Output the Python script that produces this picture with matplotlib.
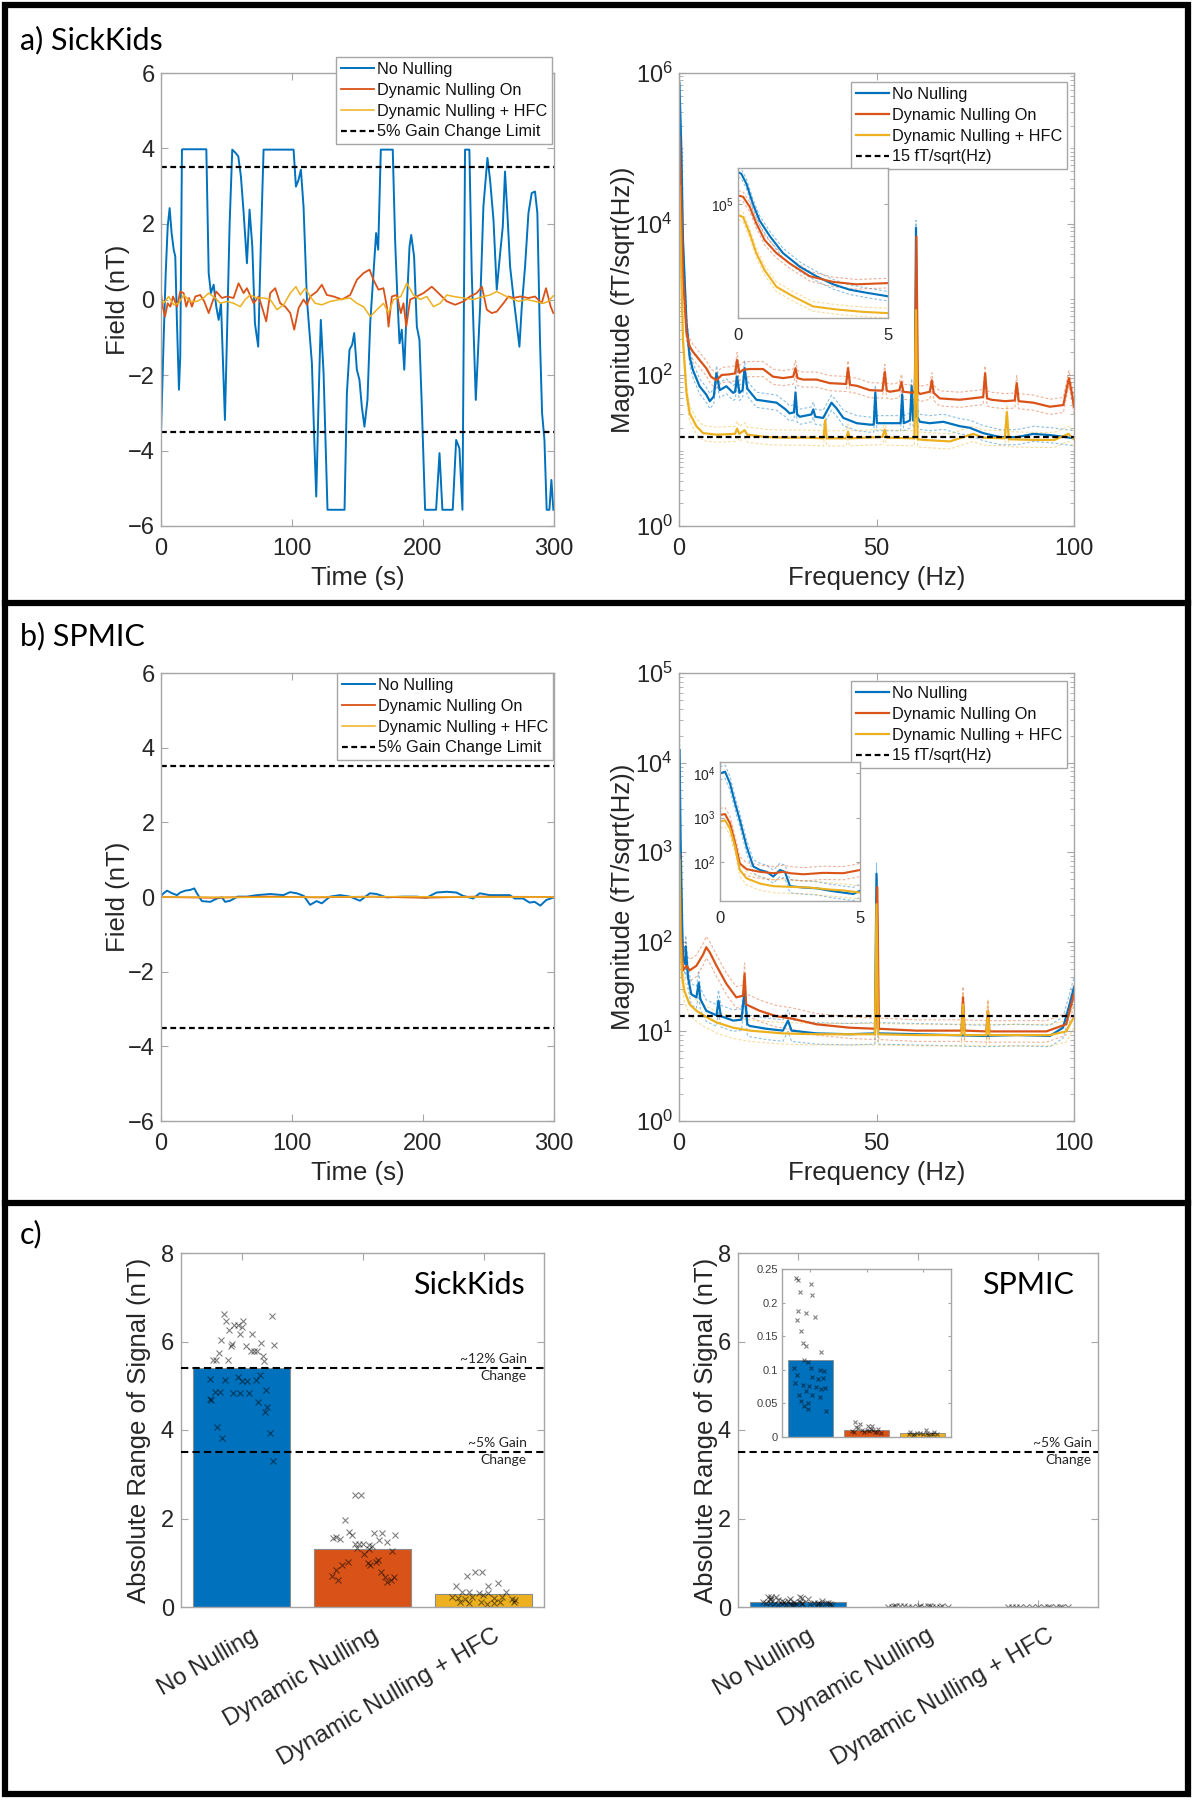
import numpy as np
import matplotlib
matplotlib.use("Agg")
import matplotlib.pyplot as plt
import matplotlib.transforms as mtransforms
from matplotlib.patches import Rectangle
from matplotlib.lines import Line2D
from matplotlib.ticker import FixedLocator, NullLocator, NullFormatter, FuncFormatter, LogLocator

plt.rcParams['font.family'] = ['Liberation Sans', 'DejaVu Sans']
plt.rcParams['mathtext.fontset'] = 'custom'
plt.rcParams['mathtext.rm'] = 'Liberation Sans'

# ---------------- data ----------------
series_labels = ["No Nulling", "Dynamic Nulling On", "Dynamic Nulling + HFC"]
gain_label = "5% Gain Change Limit"
floor_label = "15 fT/sqrt(Hz)"
gain_limit = 3.5
noise_floor = 15.0

# (a) SickKids time series: (time s, field nT)
a_ts_blue = [(0, -3.54), (2.0, -1.07), (3.6, 0.70), (5.1, 1.93), (6.6, 2.42), (8.1, 1.76), (9.7, 1.32),
             (10.9, 1.14), (12.2, -0.63), (13.7, -2.39), (14.7, -1.51), (16.0, 3.97), (16.8, 3.98),
             (34.6, 3.98), (36.4, 0.70), (38.1, 0.17), (40.2, 0.39), (42.2, -0.19), (44.0, -0.54),
             (45.8, -0.10), (48.8, -3.19), (50.3, -1.07), (52.4, 2.02), (54.4, 3.97), (57.0, 3.88),
             (59.0, 3.79), (61.0, 3.26), (63.1, 2.29), (65.6, 0.96), (67.6, 2.38), (69.7, 1.40),
             (71.7, -0.63), (74.2, -1.25), (76.3, 1.58), (78.3, 3.97), (101.2, 3.97), (103.0, 2.99),
             (105.0, 3.17), (106.8, 3.44), (108.8, 2.46), (111.4, 0.0), (115.2, -1.69), (117.0, -3.72),
             (118.5, -5.22), (120.5, -2.39), (122.0, -0.54), (124.1, -1.95), (127.1, -5.57),
             (140.1, -5.57), (141.9, -2.48), (143.9, -1.33), (145.9, -1.20), (147.5, -0.89),
             (149.5, -1.86), (151.5, -2.13), (153.3, -2.84), (155.3, -3.37), (157.6, -2.66),
             (159.7, -0.63), (162.2, 0.70), (164.2, 1.76), (165.8, 1.32), (167.8, 3.97), (176.9, 3.97),
             (178.7, 1.58), (180.5, 0.0), (182.1, -1.16), (183.8, -0.80), (185.7, -1.86), (187.6, -0.19),
             (189.7, 1.40), (191.0, 1.71), (193.2, 1.14), (195.3, -0.72), (197.3, -1.07), (199.1, -2.84),
             (201.6, -5.57), (210.0, -5.57), (212.6, -4.07), (214.8, -5.57), (222.7, -5.57),
             (225.3, -3.72), (227.8, -3.94), (230.1, -5.57), (232.1, 3.97), (235.4, 3.97), (237.2, 0.70),
             (240.3, -2.66), (243.6, -0.19), (246.1, 2.46), (249.2, 3.75), (251.2, 3.17), (253.8, 2.11),
             (256.3, 0.26), (258.9, 1.23), (260.9, 1.93), (262.6, 3.39), (264.4, 2.29), (266.5, 0.87),
             (269.0, 0.08), (271.5, -0.63), (273.6, -1.25), (275.4, -0.19), (277.9, 0.87), (280.5, 2.29),
             (283.0, 2.82), (285.5, 2.86), (287.3, 2.29), (289.3, -1.07), (290.9, -3.01), (292.7, -3.72),
             (294.4, -5.57), (296.5, -5.57), (298.0, -4.78), (299.5, -5.57)]
a_ts_orange = [(0, 0.17), (1.3, -0.19), (3.1, -0.45), (5.1, -0.10), (7.1, -0.19), (9.2, 0.08), (12.2, -0.19),
               (14.7, 0.21), (17.3, 0.17), (19.3, -0.19), (21.4, 0.04), (23.6, -0.19), (26.2, 0.08),
               (30.0, 0.12), (33.0, -0.05), (36.4, -0.36), (38.9, -0.10), (42.2, 0.21), (46.5, 0.04),
               (50.3, 0.08), (55.4, 0.04), (59.2, 0.43), (63.1, 0.17), (65.6, 0.30), (70.7, -0.10),
               (74.5, 0.08), (77.0, -0.19), (80.3, -0.58), (83.4, 0.17), (87.2, 0.30), (91.0, -0.10),
               (94.8, -0.19), (98.7, -0.36), (101.7, -0.80), (105.0, -0.23), (108.8, 0.0), (111.4, -0.14),
               (113.9, 0.08), (118.9, 0.21), (122.8, 0.39), (126.6, 0.12), (131.7, 0.08), (138.1, 0.0),
               (144.4, 0.12), (149.5, 0.52), (154.6, 0.70), (159.2, 0.79), (162.2, 0.52), (166.0, 0.26),
               (169.8, 0.30), (172.4, -0.19), (173.7, -0.72), (176.2, 0.08), (180.0, 0.12), (183.1, -0.36),
               (185.1, -0.10), (187.2, -0.72), (190.2, 0.0), (195.3, 0.08), (200.4, 0.17), (206.7, 0.34),
               (211.8, 0.17), (218.2, -0.05), (224.5, -0.14), (230.9, -0.05), (235.9, 0.08), (241.0, 0.17),
               (245.0, 0.34), (248.7, -0.27), (252.5, -0.36), (256.3, -0.32), (261.4, -0.10), (265.2, 0.08),
               (269.0, 0.04), (274.1, 0.08), (280.5, 0.04), (285.5, 0.08), (290.6, -0.10), (293.9, 0.30),
               (297.5, -0.19), (299.5, -0.36)]
a_ts_yellow = [(0, 0.0), (2.0, -0.10), (5.8, 0.08), (9.7, -0.14), (13.5, -0.10), (17.3, 0.12), (22.4, -0.05),
               (27.5, -0.05), (32.5, 0.04), (36.4, 0.17), (41.4, 0.04), (45.3, -0.10), (50.3, -0.05),
               (55.4, -0.10), (60.5, -0.19), (64.3, 0.0), (68.1, 0.12), (73.2, 0.04), (78.3, 0.04),
               (83.4, 0.0), (88.5, -0.27), (93.6, -0.14), (98.7, 0.17), (103.0, 0.34), (106.3, 0.12),
               (110.1, 0.30), (113.9, 0.08), (117.7, -0.10), (122.8, -0.14), (129.2, -0.05), (136.8, 0.0),
               (144.4, 0.04), (149.5, -0.10), (154.6, -0.19), (159.7, -0.45), (164.8, -0.27), (169.8, -0.10),
               (173.7, -0.36), (177.5, 0.0), (183.1, 0.08), (187.6, 0.43), (192.7, 0.12), (197.8, 0.0),
               (202.9, 0.08), (208.0, -0.19), (213.1, -0.10), (218.2, 0.12), (223.2, 0.08), (230.9, 0.04),
               (238.5, 0.0), (246.1, 0.08), (251.2, 0.12), (256.3, 0.21), (261.4, 0.12), (266.5, 0.04),
               (272.8, -0.05), (279.2, 0.0), (285.5, -0.05), (291.9, -0.10), (295.7, -0.05), (299.5, 0.10)]

# (b) SPMIC time series
b_ts_blue = [(0, 0.03), (2.0, 0.10), (4.6, 0.17), (8.4, 0.10), (12.2, 0.05), (14.7, 0.12), (18.5, 0.17),
             (22.4, 0.19), (25.4, 0.23), (27.4, 0.10), (31.2, -0.11), (37.6, -0.13), (42.7, -0.04),
             (46.5, -0.01), (49.0, -0.13), (52.8, -0.10), (58.5, 0.01), (65.5, 0.01), (73.2, 0.05),
             (83.3, 0.08), (93.5, 0.05), (98.5, 0.13), (103.6, 0.10), (109.0, 0.03), (113.8, -0.21),
             (118.8, -0.11), (122.7, -0.17), (129.0, 0.01), (136.7, 0.05), (144.3, 0.01), (151.9, -0.10),
             (159.5, 0.10), (164.6, 0.08), (172.2, -0.01), (184.9, 0.01), (195.0, 0.01), (202.7, -0.02),
             (210.3, 0.12), (217.9, 0.14), (225.5, 0.12), (230.6, 0.03), (238.3, -0.04), (243.3, 0.10),
             (250.9, 0.05), (258.6, 0.05), (266.2, 0.05), (270.0, -0.04), (276.4, -0.04), (281.4, -0.15),
             (285.2, -0.13), (289.6, -0.23), (294.1, -0.08), (300.0, -0.01)]
b_ts_orange = [(0, 0.0), (40, -0.02), (80, 0.01), (120, -0.01), (160, 0.01), (200, -0.02), (240, 0.01),
               (300, 0.0)]
b_ts_yellow = [(0, 0.0), (60, -0.01), (120, 0.0), (180, 0.01), (240, 0.0), (300, 0.0)]

# (a) SickKids spectra: (frequency Hz, magnitude fT/sqrt(Hz))
a_psd_blue = [(0.1, 7.4e5), (0.6, 9.5e4), (1.0, 6200), (1.9, 490), (2.7, 174), (3.5, 117), (5.2, 71),
              (6.9, 55), (7.8, 45), (8.8, 52), (9.5, 105), (10.3, 63), (12.0, 71), (13.7, 58), (14.2, 60),
              (14.7, 95), (15.3, 58), (16.1, 63), (16.6, 123), (17.3, 66), (19.6, 47), (22.1, 45),
              (24.7, 43), (27.0, 35), (28.0, 31), (29.1, 32), (29.5, 58), (29.9, 30), (30.6, 28),
              (33.5, 30), (34.0, 35), (34.5, 28), (36.5, 27), (38.6, 43), (39.9, 36), (41.6, 27),
              (45.0, 23), (48.3, 22), (49.3, 22), (49.7, 58), (50.1, 23), (53.4, 23), (56.1, 23),
              (56.5, 55), (56.9, 23), (58.5, 25), (58.9, 71), (59.3, 25), (59.7, 28), (60.0, 8900),
              (60.3, 28), (61.0, 24), (63.5, 23), (66.9, 24), (71.1, 21), (73.6, 20), (77.0, 17),
              (81.3, 15), (85.5, 15), (89.7, 16.6), (93.9, 16), (98.1, 15), (100, 14.5)]
a_psd_orange = [(0.1, 1.45e5), (0.6, 1.7e4), (1.0, 2240), (1.9, 355), (2.7, 240), (3.5, 204), (5.2, 158),
                (6.9, 123), (8.1, 95), (9.5, 85), (10.8, 100), (12.7, 102), (14.2, 105), (14.7, 158),
                (15.3, 107), (16.2, 117), (17.9, 120), (21.3, 120), (23.8, 95), (26.4, 91), (28.9, 95),
                (29.5, 123), (30.0, 91), (31.4, 87), (34.8, 87), (38.2, 78), (42.3, 76), (42.8, 123),
                (43.3, 74), (45.0, 72), (48.3, 63), (51.5, 62), (52.1, 110), (52.6, 62), (53.4, 60),
                (55.8, 63), (56.3, 81), (56.8, 60), (59.3, 58), (59.7, 63), (60.1, 6800), (60.5, 60),
                (61.0, 56), (63.5, 60), (64.0, 85), (64.5, 58), (66.0, 49), (71.1, 47), (77.0, 51),
                (77.5, 105), (78.0, 49), (79.1, 47), (82.5, 45), (85.0, 46), (85.5, 78), (86.0, 45),
                (89.7, 43), (93.9, 38), (97.3, 40), (98.7, 91), (99.5, 56), (100, 38)]
a_psd_yellow = [(0.1, 3.2e4), (0.6, 2240), (1.0, 295), (1.9, 58), (2.7, 31), (4.4, 21), (6.1, 17),
                (9.5, 16.2), (14.2, 16.6), (14.7, 19.5), (15.3, 16.6), (16.6, 18.6), (17.3, 16.2),
                (22.1, 15.1), (26.4, 14.8), (32.5, 14.8), (36.6, 14.5), (37.0, 25), (37.4, 14.5),
                (42.3, 14.5), (42.8, 17.8), (43.2, 14.5), (51.5, 15.1), (52.1, 19), (52.6, 14.8),
                (59.6, 14.5), (60.0, 725), (60.4, 14.1), (62.0, 13.8), (68.6, 13.2), (74.5, 16.6),
                (77.0, 14.8), (82.5, 14.5), (83.0, 32), (83.5, 14.1), (89.7, 13.8), (95.0, 13.8),
                (98.6, 16.6), (100, 14.1)]
a_psd_band = [0.10, 0.10, 0.10]        # half-width of dashed bounds (decades)

a_inset_blue = [(0, 1.85e5), (0.11, 1.79e5), (0.28, 1.48e5), (0.5, 1.0e5), (0.72, 7.3e4), (1.06, 5.4e4),
                (1.5, 3.9e4), (2.06, 3.0e4), (2.61, 2.5e4), (3.17, 2.14e4), (3.72, 1.93e4), (4.28, 1.82e4),
                (5.0, 1.7e4)]
a_inset_orange = [(0, 1.18e5), (0.17, 1.15e5), (0.39, 9.5e4), (0.61, 6.9e4), (0.89, 5.0e4), (1.28, 3.9e4),
                  (1.72, 3.2e4), (2.39, 2.5e4), (3.17, 2.24e4), (3.94, 2.14e4), (5.0, 2.19e4)]
a_inset_yellow = [(0, 8.1e4), (0.17, 7.8e4), (0.39, 5.7e4), (0.61, 3.9e4), (0.89, 2.8e4), (1.28, 2.04e4),
                  (1.83, 1.7e4), (2.5, 1.4e4), (3.28, 1.32e4), (4.17, 1.26e4), (5.0, 1.23e4)]
a_inset_band = [0.04, 0.04, 0.04]
a_inset_ylim = (1.12e4, 2.0e5)

# (b) SPMIC spectra
b_psd_blue = [(0.15, 1.38e4), (0.4, 1350), (0.8, 158), (1.0, 68), (1.6, 56), (1.7, 89), (2.3, 40), (3.1, 26),
              (4.4, 24), (5.0, 35), (5.4, 23), (6.9, 17), (9.5, 15.1), (10.0, 22), (10.6, 14.8), (13.7, 13.2),
              (15.8, 13.5), (16.6, 28), (17.3, 12), (17.9, 11.5), (22.1, 10.7), (26.3, 10.2), (27.6, 13.2),
              (28.5, 10.2), (34.8, 9.5), (43.0, 9.3), (49.6, 9.5), (50.0, 575), (50.4, 9.5), (60.0, 9.3),
              (68.6, 9.1), (77.0, 8.9), (85.5, 9.1), (93.9, 8.9), (97.2, 11), (98.9, 20), (100, 31)]
b_psd_orange = [(0.15, 955), (0.4, 158), (1.0, 48), (1.9, 54), (2.7, 48), (4.4, 54), (6.1, 72), (6.9, 87),
                (7.8, 76), (9.5, 54), (12.0, 34), (14.5, 24), (16.2, 25), (16.6, 44), (17.0, 20), (20.4, 17),
                (24.6, 14.8), (28.9, 13.8), (34.8, 12), (43.2, 11), (49.7, 10.7), (50.2, 407), (50.6, 10.7),
                (60.0, 10.2), (71.5, 10.2), (71.9, 24), (72.3, 10.2), (77.8, 10), (78.2, 17), (78.6, 10),
                (85.0, 10), (93.0, 10), (98.0, 12), (100, 26)]
b_psd_yellow = [(0.15, 813), (0.4, 102), (0.8, 40), (1.4, 28), (2.7, 20), (4.4, 17), (6.9, 14.5), (9.5, 12.6),
                (13.7, 11), (17.9, 10.2), (26.3, 9.5), (34.8, 9.3), (49.6, 9.3), (50.0, 263), (50.4, 9.3),
                (60.0, 9.1), (71.5, 9.1), (71.9, 20), (72.3, 9.1), (77.8, 9.1), (78.2, 17), (78.6, 9.1),
                (85.5, 9.1), (93.9, 9.1), (98.0, 10), (100, 14.5)]
b_psd_band = [0.12, 0.12, 0.12]

b_inset_blue = [(0, 1.0e4), (0.18, 1.1e4), (0.36, 5900), (0.54, 2100), (0.71, 870), (0.95, 220), (1.19, 78),
                (1.43, 65), (1.67, 59), (1.9, 46), (2.14, 65), (2.32, 59), (2.5, 28), (2.98, 26), (3.45, 25),
                (3.93, 22), (4.4, 20), (4.76, 18.6), (5.0, 22)]
b_inset_orange = [(0, 1150), (0.18, 1200), (0.36, 740), (0.54, 263), (0.71, 91), (0.95, 68), (1.43, 59),
                  (1.9, 55), (2.26, 59), (2.5, 55), (2.98, 52), (3.69, 56), (4.4, 55), (5.0, 65)]
b_inset_yellow = [(0, 813), (0.18, 870), (0.36, 560), (0.54, 220), (0.71, 65), (0.95, 42), (1.43, 32),
                  (1.9, 28), (2.5, 27), (3.21, 26), (3.93, 23.4), (4.4, 22.4), (5.0, 20)]
b_inset_band = [0.15, 0.15, 0.15]
b_inset_ylim = (12.9, 1.82e4)

# (c) absolute range of signal
bar_labels = ["No Nulling", "Dynamic Nulling", "Dynamic Nulling + HFC"]
sk_means = [5.4, 1.3, 0.3]
sp_means = [0.115, 0.011, 0.006]
sk_lines = [5.4, 3.5]
sk_line_text = [("~12% Gain", "Change"), ("~5% Gain", "Change")]
sp_lines = [3.5]
sp_line_text = [("~5% Gain", "Change")]
# subject points: (jitter from bar centre, value nT)
sk_pts_nn = [(-0.143, 6.62), (-0.127, 6.46), (0.254, 6.57), (-0.063, 6.38), (-0.032, 6.38), (0.016, 6.46),
             (-0.102, 6.25), (0.0, 6.33), (-0.016, 6.16), (0.083, 6.16), (-0.168, 6.04), (-0.079, 5.94),
             (-0.086, 5.90), (0.038, 5.90), (0.165, 5.96), (0.27, 5.92), (-0.19, 5.73), (0.079, 5.79),
             (0.10, 5.79), (0.127, 5.79), (0.175, 5.68), (-0.213, 5.58), (-0.232, 5.58), (-0.111, 5.58),
             (0.184, 5.57), (-0.257, 5.16), (-0.133, 5.14), (-0.032, 5.19), (0.006, 5.10), (0.048, 5.10),
             (0.117, 5.12), (0.152, 5.25), (-0.216, 4.86), (-0.181, 4.86), (-0.073, 4.84), (-0.016, 4.84),
             (0.063, 4.84), (0.2, 4.90), (-0.263, 4.71), (-0.251, 4.68), (0.133, 4.63), (0.213, 4.52),
             (0.197, 4.40), (-0.2, 4.06), (0.235, 3.94), (-0.159, 3.82), (0.257, 3.29)]
sk_pts_dn = [(-0.063, 2.53), (-0.01, 2.54), (-0.143, 1.96), (-0.244, 1.56), (-0.219, 1.59), (-0.184, 1.53),
             (-0.111, 1.69), (-0.086, 1.63), (0.095, 1.68), (0.165, 1.68), (0.27, 1.62), (0.137, 1.51),
             (0.206, 1.46), (-0.063, 1.43), (-0.032, 1.43), (0.0, 1.43), (0.054, 1.40), (0.079, 1.38),
             (-0.048, 1.33), (0.054, 1.31), (0.241, 1.27), (0.016, 1.19), (0.127, 1.06), (0.111, 1.01),
             (-0.117, 1.01), (0.048, 0.99), (0.063, 0.95), (-0.168, 0.95), (-0.222, 0.84), (0.152, 0.78),
             (-0.254, 0.71), (0.257, 0.68), (0.184, 0.67), (0.232, 0.62), (-0.2, 0.61), (0.206, 0.56)]
sk_pts_hfc = [(-0.133, 0.69), (-0.07, 0.78), (-0.016, 0.80), (-0.229, 0.48), (0.041, 0.47), (0.121, 0.55),
              (-0.181, 0.35), (-0.117, 0.35), (-0.038, 0.32), (0.041, 0.32), (0.184, 0.35), (-0.26, 0.23),
              (-0.213, 0.21), (-0.149, 0.19), (-0.095, 0.23), (-0.006, 0.28), (0.089, 0.21), (0.152, 0.23),
              (0.232, 0.19), (0.263, 0.15), (-0.197, 0.12), (-0.117, 0.10), (-0.022, 0.12), (0.089, 0.10),
              (0.137, 0.12), (0.248, 0.12), (0.025, 0.06)]
sp_pts_nn = [(-0.248, 0.236), (-0.221, 0.233), (0.013, 0.227), (-0.181, 0.216), (0.034, 0.212), (-0.221, 0.188),
             (-0.067, 0.185), (0.087, 0.179), (-0.235, 0.174), (-0.168, 0.157), (-0.134, 0.140), (-0.081, 0.136),
             (0.201, 0.127), (-0.114, 0.114), (-0.034, 0.111), (-0.289, 0.103), (0.013, 0.103), (0.168, 0.100),
             (0.248, 0.098), (-0.235, 0.092), (0.034, 0.090), (0.134, 0.086), (0.235, 0.088), (-0.268, 0.080),
             (-0.134, 0.078), (-0.013, 0.076), (0.101, 0.074), (0.188, 0.071), (0.268, 0.073), (-0.067, 0.068),
             (-0.201, 0.063), (0.034, 0.063), (0.168, 0.060), (-0.168, 0.054), (-0.034, 0.051), (-0.101, 0.046),
             (0.282, 0.039), (-0.047, 0.041)]
sp_pts_dn = [(-0.2, 0.022), (-0.12, 0.019), (0.02, 0.017), (0.1, 0.016), (-0.15, 0.013), (0.2, 0.012),
             (0.0, 0.010), (-0.25, 0.009), (0.15, 0.008), (-0.05, 0.007), (0.25, 0.006), (0.08, 0.012),
             (-0.18, 0.015), (0.05, 0.009), (-0.08, 0.011), (0.18, 0.007), (0.12, 0.010), (-0.22, 0.008)]
sp_pts_hfc = [(-0.22, 0.008), (-0.1, 0.006), (0.05, 0.010), (0.15, 0.005), (0.0, 0.004), (-0.15, 0.005),
              (0.2, 0.007), (0.1, 0.003), (-0.05, 0.006), (0.25, 0.005), (-0.25, 0.004), (0.08, 0.006),
              (-0.18, 0.003), (0.18, 0.004)]

# ---------------- styling ----------------
W, H = 1194, 1800
C = ['#0072BD', '#D95319', '#EDB120']
SPINE = '#a6a6a6'
TXT = '#262626'
DASH = (0, (2.6, 1.6))
CAL = ['Lato', 'DejaVu Sans']
LAB_FS = 18.5

fig = plt.figure(figsize=(W / 100, H / 100), dpi=100)


def ax_px(x0, y0, x1, y1):
    return fig.add_axes([x0 / W, 1 - y1 / H, (x1 - x0) / W, (y1 - y0) / H])


def style(ax, fs=17, xpad=8.5, ypad=4.5):
    for s in ax.spines.values():
        s.set_color(SPINE)
        s.set_linewidth(1.0)
    ax.tick_params(which='both', direction='in', top=True, right=True, color=SPINE, labelcolor=TXT)
    ax.tick_params(which='major', length=5, labelsize=fs)
    ax.tick_params(which='minor', length=3)
    ax.tick_params(axis='x', pad=xpad)
    ax.tick_params(axis='y', pad=ypad)


def xy(pairs):
    a = np.array(pairs, dtype=float)
    return a[:, 0], a[:, 1]


def legend_px(ax, handles, labels, x1, y0):
    leg = ax.legend(handles, labels, loc='upper right', bbox_to_anchor=(x1 / W, 1 - y0 / H),
                    bbox_transform=fig.transFigure, fontsize=11.7, frameon=True, fancybox=False,
                    edgecolor=SPINE, framealpha=1, borderpad=0.3, labelspacing=0.36,
                    handlelength=2.0, handletextpad=0.2, borderaxespad=0)
    leg.get_frame().set_linewidth(1.0)
    for t in leg.get_texts():
        t.set_color('#111111')
    return leg


def ts_panel(box, blue, orange, yellow, leg_box):
    ax = ax_px(*box)
    hs = []
    for data, c, lw, lab in zip([blue, orange, yellow], C, [1.4, 1.3, 1.1], series_labels):
        t, v = xy(data)
        h, = ax.plot(t, v, color=c, lw=lw, label=lab)
        hs.append(h)
    for yv in (gain_limit, -gain_limit):
        ax.axhline(yv, color='k', ls=DASH, lw=1.6)
    hs.append(Line2D([], [], color='k', ls=DASH, lw=1.6))
    ax.set_xlim(0, 300)
    ax.set_ylim(-6, 6)
    ax.set_xticks([0, 100, 200, 300])
    ax.set_yticks([-6, -4, -2, 0, 2, 4, 6])
    style(ax)
    ax.set_xlabel('Time (s)', fontsize=LAB_FS, color=TXT)
    ax.set_ylabel('Field (nT)', fontsize=LAB_FS, color=TXT)
    h_ax = box[3] - box[1]
    w_ax = box[2] - box[0]
    ax.xaxis.set_label_coords(0.5, -40 / h_ax)
    ax.yaxis.set_label_coords(-31 / w_ax, 0.5)
    legend_px(ax, hs, series_labels + [gain_label], leg_box[0], leg_box[1])
    return ax


def band_lines(ax, series, bands, lw_mean):
    hs = []
    for data, c, b in zip(series, C, bands):
        f, m = xy(data)
        ax.plot(f, m * 10 ** b, color=c, lw=0.8, ls=(0, (2.5, 1.8)), alpha=0.45)
        ax.plot(f, m / 10 ** b, color=c, lw=0.8, ls=(0, (2.5, 1.8)), alpha=0.45)
    for data, c, lab in zip(series, C, series_labels):
        f, m = xy(data)
        h, = ax.plot(f, m, color=c, lw=lw_mean, label=lab)
        hs.append(h)
    return hs


def psd_panel(box, series, bands, yticks, ymax, leg_box, inset_box, inset_series, inset_bands,
              inset_ylim, inset_yticks):
    ax = ax_px(*box)
    ax.set_yscale('log')
    hs = band_lines(ax, series, bands, 1.6)
    ax.axhline(noise_floor, color='k', ls=DASH, lw=1.6)
    hs.append(Line2D([], [], color='k', ls=DASH, lw=1.6))
    ax.set_xlim(0, 100)
    ax.set_ylim(1, ymax)
    ax.set_xticks([0, 50, 100])
    ax.yaxis.set_major_locator(FixedLocator(yticks))
    ax.yaxis.set_minor_locator(LogLocator(base=10, subs=np.arange(1, 10), numticks=100))
    ax.yaxis.set_minor_formatter(NullFormatter())
    style(ax)
    ax.set_xlabel('Frequency (Hz)', fontsize=LAB_FS, color=TXT)
    ax.set_ylabel('Magnitude (fT/sqrt(Hz))', fontsize=LAB_FS, color=TXT)
    h_ax = box[3] - box[1]
    w_ax = box[2] - box[0]
    ax.xaxis.set_label_coords(0.5, -40 / h_ax)
    ax.yaxis.set_label_coords(-44 / w_ax, 0.5)
    legend_px(ax, hs, series_labels + [floor_label], leg_box[0], leg_box[1])

    ins = ax_px(*inset_box)
    ins.set_yscale('log')
    band_lines(ins, inset_series, inset_bands, 1.5)
    ins.set_xlim(0, 5)
    ins.set_ylim(*inset_ylim)
    ins.set_xticks([0, 5])
    ins.yaxis.set_major_locator(FixedLocator(inset_yticks))
    ins.yaxis.set_minor_locator(NullLocator())
    style(ins, fs=12, xpad=7, ypad=3)
    ins.tick_params(axis='y', labelsize=10)
    ins.tick_params(which='major', length=3)
    return ax


# ---------------- panels a & b ----------------
ts_panel((161, 73, 554, 526), a_ts_blue, a_ts_orange, a_ts_yellow, (552, 57))
psd_panel((679, 73, 1074, 526), [a_psd_blue, a_psd_orange, a_psd_yellow], a_psd_band,
          [1, 1e2, 1e4, 1e6], 1e6, (1067, 82), (738, 168, 888, 318),
          [a_inset_blue, a_inset_orange, a_inset_yellow], a_inset_band, a_inset_ylim, [1e5])

ts_panel((161, 673, 554, 1121), b_ts_blue, b_ts_orange, b_ts_yellow, (553, 673))
psd_panel((679, 673, 1074, 1121), [b_psd_blue, b_psd_orange, b_psd_yellow], b_psd_band,
          [1, 1e1, 1e2, 1e3, 1e4, 1e5], 1e5, (1067, 681), (720, 762, 860, 901),
          [b_inset_blue, b_inset_orange, b_inset_yellow], b_inset_band, b_inset_ylim, [1e2, 1e3, 1e4])


# ---------------- panel c ----------------
def scatter_pts(ax, pts_list, ms, alpha):
    for i, pts in enumerate(pts_list):
        dx, v = xy(pts)
        ax.plot(dx + (i + 1), v, ls='none', marker='x', ms=ms, mec='k', mew=0.8, alpha=alpha)


def bar_panel(box, means, pts_list, lines, line_texts, title, title_x, text_x, ylab_off):
    ax = ax_px(*box)
    ax.bar([1, 2, 3], means, width=0.8, color=C, edgecolor='#8c8c8c', lw=0.8, zorder=2)
    scatter_pts(ax, pts_list, 4.2, 0.5)
    for yv, (t1, t2) in zip(lines, line_texts):
        ax.axhline(yv, color='k', ls=(0, (3.5, 2.0)), lw=1.5, zorder=3)
        ax.annotate(t1, (text_x, yv), xytext=(0, 2), textcoords='offset points', ha='right', va='bottom',
                    fontsize=10, family=CAL, color=TXT)
        ax.annotate(t2, (text_x, yv), xytext=(0, -1.5), textcoords='offset points', ha='right', va='top',
                    fontsize=10, family=CAL, color=TXT)
    ax.set_xlim(0.5, 3.5)
    ax.set_ylim(0, 8)
    ax.set_yticks([0, 2, 4, 6, 8])
    ax.set_xticks([1, 2, 3])
    style(ax, ypad=5)
    ax.set_xticklabels(bar_labels, rotation=30, ha='right', va='top', rotation_mode='anchor', fontsize=17.5)
    off = mtransforms.ScaledTranslation(9 / 100, -6 / 100, fig.dpi_scale_trans)
    for lbl in ax.get_xticklabels():
        lbl.set_transform(lbl.get_transform() + off)
    ax.text(title_x, 0.91, title, transform=ax.transAxes, ha='right',
            va='center', fontsize=22, family=CAL, color='k')
    ax.set_ylabel('Absolute Range of Signal (nT)', fontsize=LAB_FS, color=TXT)
    ax.yaxis.set_label_coords(ylab_off / (box[2] - box[0]), 0.5)
    return ax


bar_panel((181, 1253, 544, 1607), sk_means, [sk_pts_nn, sk_pts_dn, sk_pts_hfc], sk_lines, sk_line_text,
          'SickKids', 0.948, 0.5 + 3 * (526.7 - 181) / 363, -30)
bar_panel((738, 1253, 1098, 1607), sp_means, [sp_pts_nn, sp_pts_dn, sp_pts_hfc], sp_lines, sp_line_text,
          'SPMIC', 0.933, 0.5 + 3 * (1092 - 738) / 360, -20)

ins = ax_px(782, 1269, 951, 1437)
ins.bar([1, 2, 3], sp_means, width=0.8, color=C, edgecolor='#8c8c8c', lw=0.6, zorder=2)
scatter_pts(ins, [sp_pts_nn, sp_pts_dn, sp_pts_hfc], 2.2, 0.5)
ins.set_xlim(0.5, 3.5)
ins.set_ylim(0, 0.25)
ins.set_xticks([1, 2, 3])
ins.set_xticklabels([])
ins.set_yticks([0, 0.05, 0.1, 0.15, 0.2, 0.25])
ins.yaxis.set_major_formatter(FuncFormatter(lambda v, p: '%g' % round(v, 3)))
style(ins, fs=8, ypad=3)
ins.tick_params(which='major', length=2.5)
ins.tick_params(axis='y', labelcolor='#404040')

# ---------------- panel labels and frames ----------------
fig.text(20 / W, 1 - 40 / H, 'a) SickKids', fontsize=22, family=CAL, va='center', ha='left')
fig.text(20 / W, 1 - 636 / H, 'b) SPMIC', fontsize=22, family=CAL, va='center', ha='left')
fig.text(20 / W, 1 - 1234 / H, 'c)', fontsize=22, family=CAL, va='center', ha='left')

fig.add_artist(Rectangle((5 / W, 1 - 1794 / H), 1183 / W, 1789 / H, transform=fig.transFigure,
                         fill=False, ec='k', lw=4.5))
for yy in (603, 1203):
    fig.add_artist(Line2D([5 / W, 1188 / W], [1 - yy / H, 1 - yy / H], transform=fig.transFigure,
                          color='k', lw=4.5))

fig.savefig('out.png', dpi=100)
